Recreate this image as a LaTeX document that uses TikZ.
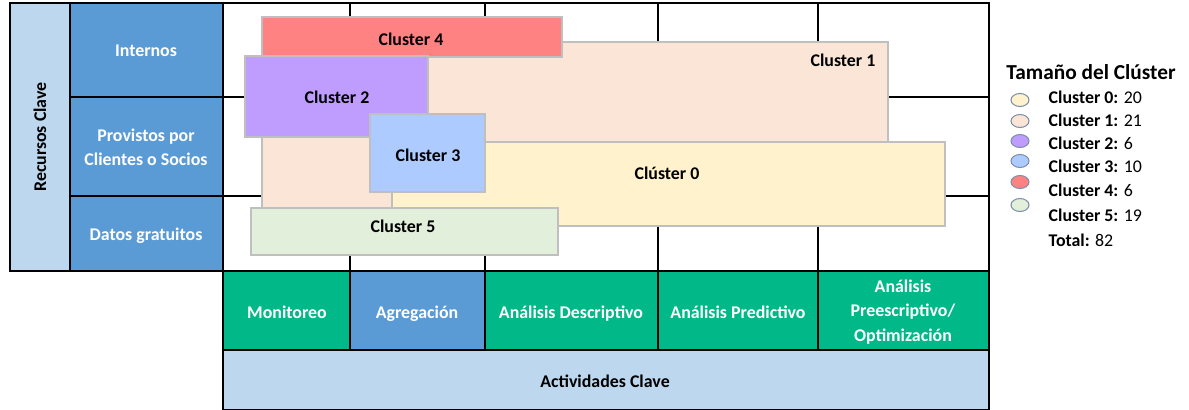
\documentclass[tikz,border=0pt]{standalone}
\usepackage{fontspec}
\setmainfont{Carlito}
\definecolor{azulclaro}{RGB}{189,215,238}
\definecolor{azulmedio}{RGB}{91,155,213}
\definecolor{verde}{RGB}{0,184,136}
\definecolor{cero}{RGB}{255,242,204}
\definecolor{uno}{RGB}{251,229,214}
\definecolor{dos}{RGB}{191,157,255}
\definecolor{tres}{RGB}{173,203,255}
\definecolor{cuatro}{RGB}{255,130,130}
\definecolor{cinco}{RGB}{226,239,218}
\definecolor{borde}{RGB}{125,145,170}
\tikzset{
  celda/.style={draw=black, line width=0.9pt},
  grupo/.style={draw=black!25, line width=0.8pt},
  blanco/.style={text=white, align=center},
  linea/.style={text height=1.6ex, text depth=0.45ex, yshift=-1.9pt},
  leyenda/.style={fill=#1, draw=borde, line width=0.8pt}
}
\begin{document}
\begin{tikzpicture}[x=0.75pt,y=-0.75pt,font=\fontsize{13.4}{18}\selectfont\bfseries]
 \useasboundingbox (0,0) rectangle (1189,410);
 % recursos clave
 \filldraw[celda,fill=azulclaro] (10,3) rectangle (70,271);
 \node (rc) at (40,137) [rotate=90] {Recursos Clave};
 \filldraw[celda,fill=azulmedio] (70,3) rectangle (223,97);
 \filldraw[celda,fill=azulmedio] (70,97) rectangle (223,196);
 \filldraw[celda,fill=azulmedio] (70,196) rectangle (223,271);
 \node (int) at (146,50) [blanco,linea] {Internos};
 \node (prov) at (146,147) [blanco] {Provistos por\\Clientes o Socios};
 \node (dat) at (146,234) [blanco,linea] {Datos gratuitos};
 % rejilla
 \draw[celda] (223,3) rectangle (989,271);
 \foreach \x in {350,485,658,818} \draw[celda] (\x,3) -- (\x,271);
 \draw[celda] (223,97) -- (989,97); \draw[celda] (223,196) -- (989,196);
 % clusters
 \filldraw[grupo,fill=uno] (262,42) rectangle (888,208);
 \filldraw[grupo,fill=cero] (392,142) rectangle (945,226);
 \filldraw[grupo,fill=cuatro] (262,17) rectangle (562,57);
 \filldraw[grupo,fill=dos] (245,56) rectangle (428,137);
 \filldraw[grupo,fill=tres] (370,114) rectangle (485,192);
 \filldraw[grupo,fill=cinco] (251,208) rectangle (558,255);
 \node (c1) at (843,60) [linea] {Cluster 1};
 \node (c0) at (667,173) [linea] {Clúster 0};
 \node (c4) at (411,39) [linea] {Cluster 4};
 \node (c2) at (337,97) [linea] {Cluster 2};
 \node (c3) at (428,155) [linea] {Cluster 3};
 \node (c5) at (403,226) [linea] {Cluster 5};
 % actividades clave
 \filldraw[celda,fill=verde] (223,271) rectangle (350,350);
 \filldraw[celda,fill=azulmedio] (350,271) rectangle (485,350);
 \filldraw[celda,fill=verde] (485,271) rectangle (658,350);
 \filldraw[celda,fill=verde] (658,271) rectangle (818,350);
 \filldraw[celda,fill=verde] (818,271) rectangle (989,350);
 \node (mon) at (287,312) [blanco,linea] {Monitoreo};
 \node (agr) at (417,312) [blanco,linea] {Agregación};
 \node (des) at (571,312) [blanco,linea] {Análisis Descriptivo};
 \node (pre) at (738,312) [blanco,linea] {Análisis Predictivo};
 \node (opt) at (903,312) [blanco,font=\fontsize{13.4}{18.5}\selectfont\bfseries] {Análisis\\Preescriptivo/\\Optimización};
 \filldraw[celda,fill=azulclaro] (223,350) rectangle (989,409.5);
 \node (ac) at (605,381) [linea] {Actividades Clave};
 % leyenda
 \node (tit) at (1091,72) [font=\fontsize{16}{18}\selectfont\bfseries] {Tamaño del Clúster};
 \filldraw[leyenda=cero] (1020,100) ellipse [x radius=9, y radius=6.5];
 \filldraw[leyenda=uno] (1020,121) ellipse [x radius=9, y radius=6.5];
 \filldraw[leyenda=dos] (1020,141) ellipse [x radius=9, y radius=6.5];
 \filldraw[leyenda=tres] (1020,161) ellipse [x radius=9, y radius=6.5];
 \filldraw[leyenda=cuatro] (1020,182) ellipse [x radius=9, y radius=6.5];
 \filldraw[leyenda=cinco] (1020,205) ellipse [x radius=9, y radius=6.5];
 \node (l0) at (1044,97) [right,linea] {Cluster 0: \mdseries 20};
 \node (l1) at (1044,120) [right,linea] {Cluster 1: \mdseries 21};
 \node (l2) at (1044,143) [right,linea] {Cluster 2: \mdseries 6};
 \node (l3) at (1044,166) [right,linea] {Cluster 3: \mdseries 10};
 \node (l4) at (1044,190) [right,linea] {Cluster 4: \mdseries 6};
 \node (l5) at (1044,215) [right,linea] {Cluster 5: \mdseries 19};
 \node (tot) at (1044,240) [right,linea] {Total: \mdseries 82};
\end{tikzpicture}
\end{document}
